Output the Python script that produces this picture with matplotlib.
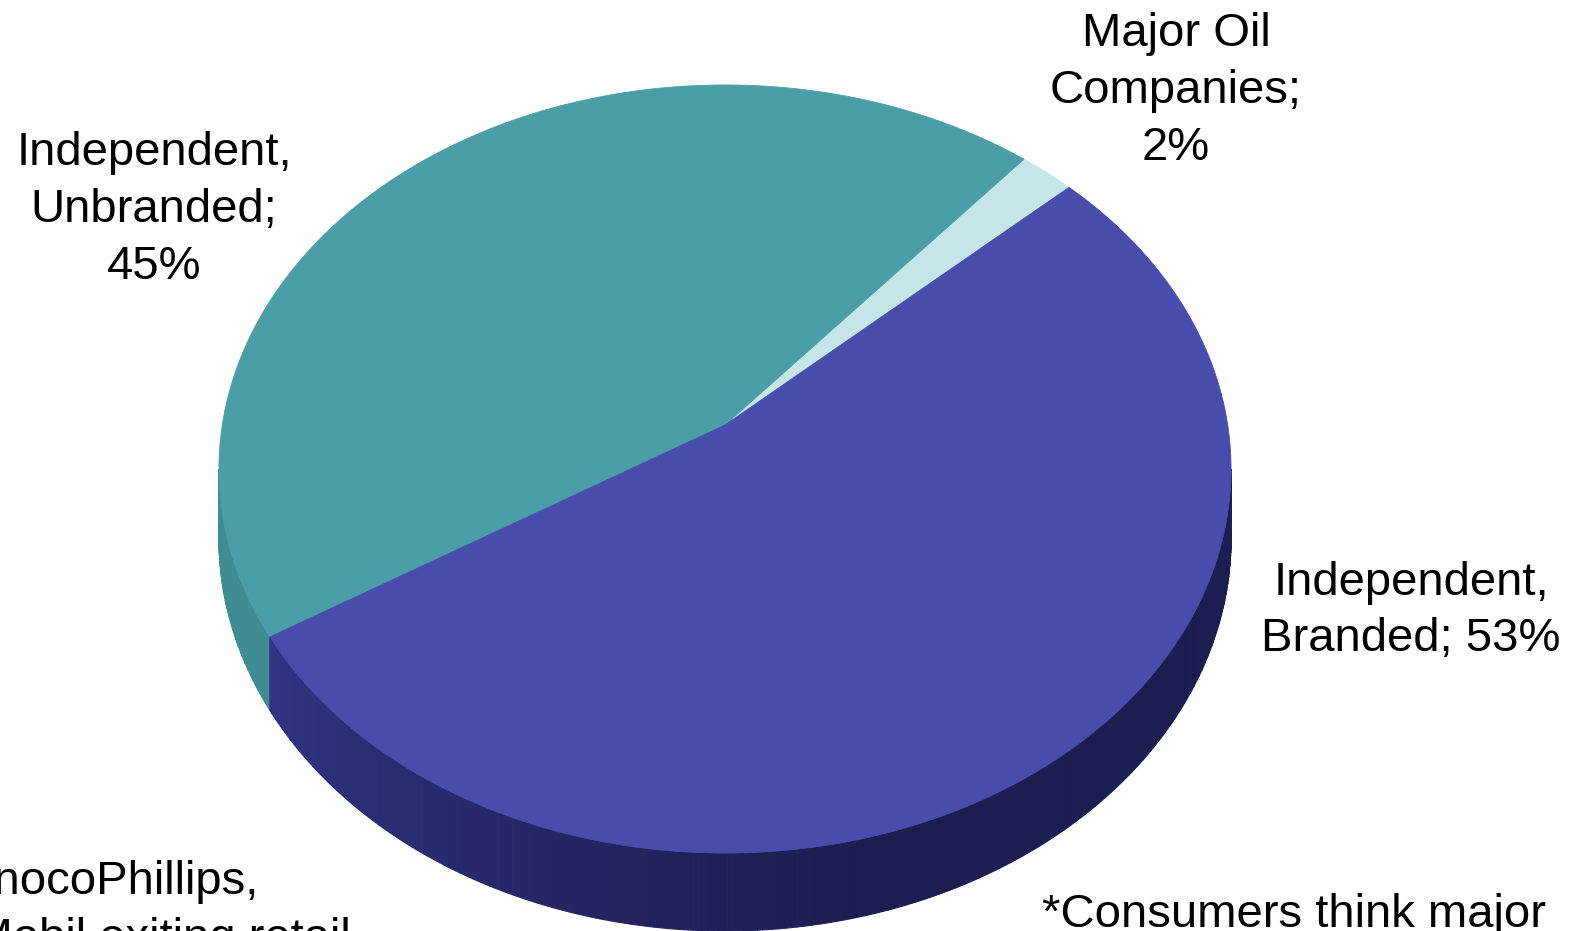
import numpy as np
import matplotlib.pyplot as plt
from matplotlib.patches import Polygon
from matplotlib.colors import to_rgb

# slices, counterclockwise from the start angle
names = ["Major Oil\nCompanies;\n2%", "Independent,\nUnbranded;\n45%", "Independent,\nBranded; 53%"]
shares = [2, 45, 53]
top_colors = ["#c6e5e9", "#4b9ea7", "#484cab"]
side_light = ["#9fc8cc", "#3f8d92", "#34378c"]
side_dark = ["#9fc8cc", "#3b878c", "#1c1d50"]
label_pos = [(1176, 91), (154, 210), (1411, 611)]

notes = ["ConocoPhillips,\nExxonMobil exiting retail", "*Consumers think major"]
note_pos = [(96, 860), (1294, 893)]

plt.rcParams['font.family'] = ['Liberation Sans', 'DejaVu Sans']

# geometry of the tilted pie (pixels)
cx, cy = 725, 425
a, b, k = 502.7, 379, 0.1146
h = 69
start = 42.5


def proj(theta, z=0.0):
    t = np.radians(theta)
    x, y = np.cos(t), np.sin(t)
    w = 1 + k * y
    return cx + a * x / w, cy - b * y / w + h * z / w


fig = plt.figure(figsize=(15.81, 9.31), dpi=100)
ax = fig.add_axes([0, 0, 1, 1])
ax.set_xlim(0, 1581)
ax.set_ylim(931, 0)
ax.axis('off')

edges = start + np.concatenate([[0], np.cumsum(shares)]) * 3.6
vis_lo = 180 + np.degrees(np.arcsin(k))
vis_hi = 360 - np.degrees(np.arcsin(k))

# side walls, shaded darker towards the front and right
for i in range(len(shares)):
    t0, t1 = edges[i], edges[i + 1]
    for off in (0, 360, -360):
        lo, hi = max(t0 + off, vis_lo), min(t1 + off, vis_hi)
        if hi <= lo:
            continue
        steps = np.linspace(lo, hi, max(int(2 * (hi - lo)), 1) + 1)
        c0, c1 = np.array(to_rgb(side_light[i])), np.array(to_rgb(side_dark[i]))
        for s0, s1 in zip(steps[:-1], steps[1:]):
            f = ((s0 + s1) / 2 - 205) / (285 - 205)
            f = min(1, max(0, f)) ** 0.8
            col = c0 * (1 - f) + c1 * f
            seg = np.linspace(s0, s1, 3)
            top = [proj(s) for s in seg]
            bot = [proj(s, 1) for s in seg[::-1]]
            ax.add_patch(Polygon(top + bot, closed=True, facecolor=col,
                                 edgecolor=col, lw=0.8))

# top faces
for i in range(len(shares)):
    th = np.linspace(edges[i], edges[i + 1], 200)
    pts = [(cx, cy)] + [proj(t) for t in th]
    ax.add_patch(Polygon(pts, closed=True, facecolor=top_colors[i],
                         edgecolor=top_colors[i], lw=0.6))

for name, (x, y) in zip(names, label_pos):
    ax.text(x, y, name, ha='center', va='center', fontsize=34,
            multialignment='center', linespacing=1.38)

for note, (x, y) in zip(notes, note_pos):
    ax.text(x, y, note, ha='center', va='top', fontsize=34,
            multialignment='center', linespacing=1.38)

fig.savefig('out.png', dpi=100)
